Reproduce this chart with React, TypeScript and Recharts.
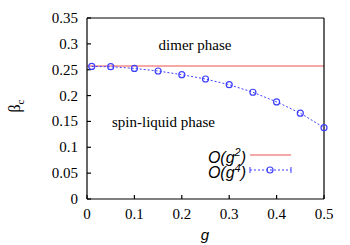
import { ComposedChart, Line, XAxis, YAxis } from 'recharts';

// series values
const gValues = [0.01, 0.05, 0.1, 0.15, 0.2, 0.25, 0.3, 0.35, 0.4, 0.45, 0.5];
const betaG4 = [0.2563, 0.2558, 0.2525, 0.2475, 0.2404, 0.232, 0.221, 0.2064, 0.1878, 0.166, 0.138];
const gLimits = [0, 0.5];
const betaG2 = [0.257, 0.257];

const xTicks = [0, 0.1, 0.2, 0.3, 0.4, 0.5];
const yTicks = [0, 0.05, 0.1, 0.15, 0.2, 0.25, 0.3, 0.35];

const g4Data = gValues.map((g, i) => ({ g, beta: betaG4[i] }));
const g2Data = gLimits.map((g, i) => ({ g, beta: betaG2[i] }));

const W = 350;
const H = 245;
const PLOT_LEFT = 87;
const PLOT_TOP = 18;
const PLOT_RIGHT = 324;
const PLOT_BOTTOM = 199;

const RED = '#f38a8a';
const BLUE = '#3f3fff';
const SERIF = '"Liberation Serif", "Times New Roman", serif';
const SANS = '"Liberation Sans", Arial, sans-serif';

const XTick = ({ x, payload }: any) => (
    <text x={x} y={PLOT_BOTTOM + 20} textAnchor="middle" fontFamily={SERIF} fontSize={15} fill="#000">
        {payload.value}
    </text>
);

const YTick = ({ y, payload }: any) => (
    <text x={PLOT_LEFT - 9} y={y + 5} textAnchor="end" fontFamily={SERIF} fontSize={15} fill="#000">
        {payload.value}
    </text>
);

const NoTick = () => <g />;

const circleDot = ({ cx, cy, index }: any) => (
    <circle key={index} cx={cx} cy={cy} r={3} fill="none" stroke={BLUE} strokeWidth={1.2} />
);

export default function App() {
    return (
        <div style={{ position: 'absolute', left: 0, top: 0, width: W, height: H, background: '#fff' }}>
            {/* mirrored axes reserve no room, so the margins are the plot box */}
            <ComposedChart
                width={W}
                height={H}
                margin={{ top: PLOT_TOP, left: PLOT_LEFT, right: W - PLOT_RIGHT, bottom: H - PLOT_BOTTOM }}
            >
                <XAxis
                    xAxisId="b"
                    dataKey="g"
                    type="number"
                    domain={[0, 0.5]}
                    ticks={xTicks}
                    mirror
                    tickSize={4}
                    stroke="#000"
                    strokeWidth={1.2}
                    tick={<XTick />}
                    allowDuplicatedCategory={false}
                />
                <XAxis
                    xAxisId="t"
                    orientation="top"
                    type="number"
                    domain={[0, 0.5]}
                    ticks={xTicks}
                    mirror
                    tickSize={4}
                    stroke="#000"
                    strokeWidth={1.2}
                    tick={<NoTick />}
                />
                <YAxis
                    yAxisId="l"
                    type="number"
                    domain={[0, 0.35]}
                    ticks={yTicks}
                    mirror
                    tickSize={4}
                    stroke="#000"
                    strokeWidth={1.2}
                    tick={<YTick />}
                />
                <YAxis
                    yAxisId="r"
                    orientation="right"
                    type="number"
                    domain={[0, 0.35]}
                    ticks={yTicks}
                    mirror
                    tickSize={4}
                    stroke="#000"
                    strokeWidth={1.2}
                    tick={<NoTick />}
                />
                <Line
                    xAxisId="b"
                    yAxisId="l"
                    data={g2Data}
                    dataKey="beta"
                    stroke={RED}
                    strokeWidth={1.5}
                    dot={false}
                    isAnimationActive={false}
                />
                <Line
                    xAxisId="b"
                    yAxisId="l"
                    data={g4Data}
                    dataKey="beta"
                    stroke={BLUE}
                    strokeWidth={1}
                    strokeDasharray="2 2"
                    dot={circleDot}
                    isAnimationActive={false}
                />
            </ComposedChart>

            {/* labels, annotations and legend */}
            <svg width={W} height={H} style={{ position: 'absolute', left: 0, top: 0, pointerEvents: 'none' }}>
                <text x={195} y={50} textAnchor="middle" fontFamily={SERIF} fontSize={15} fill="#000">dimer phase</text>
                <text x={112} y={127} fontFamily={SERIF} fontSize={15} fill="#000">spin-liquid phase</text>

                <text transform="translate(20,106) rotate(-90)" textAnchor="middle" fontFamily={SERIF} fontSize={16} fill="#000">
                    β<tspan fontSize={11} dy={4}>c</tspan>
                </text>
                <text x={205} y={240} textAnchor="middle" fontFamily={SANS} fontStyle="italic" fontSize={15} fill="#000">g</text>

                <text x={246} y={163} textAnchor="end" fontFamily={SANS} fontStyle="italic" fontSize={16} fill="#000">
                    O(g<tspan fontSize={11} dy={-7}>2</tspan><tspan dy={7}>)</tspan>
                </text>
                <line x1={250} x2={291} y1={155} y2={155} stroke={RED} strokeWidth={1.5} />
                <text x={246} y={178} textAnchor="end" fontFamily={SANS} fontStyle="italic" fontSize={16} fill="#000">
                    O(g<tspan fontSize={11} dy={-6}>4</tspan><tspan dy={6}>)</tspan>
                </text>
                <line x1={250} x2={291} y1={170} y2={170} stroke={BLUE} strokeWidth={1} strokeDasharray="2 2" />
                <line x1={250} x2={250} y1={167} y2={173} stroke={BLUE} strokeWidth={1} />
                <line x1={291} x2={291} y1={167} y2={173} stroke={BLUE} strokeWidth={1} />
                <circle cx={270} cy={170} r={3} fill="none" stroke={BLUE} strokeWidth={1.2} />
            </svg>
        </div>
    );
}
